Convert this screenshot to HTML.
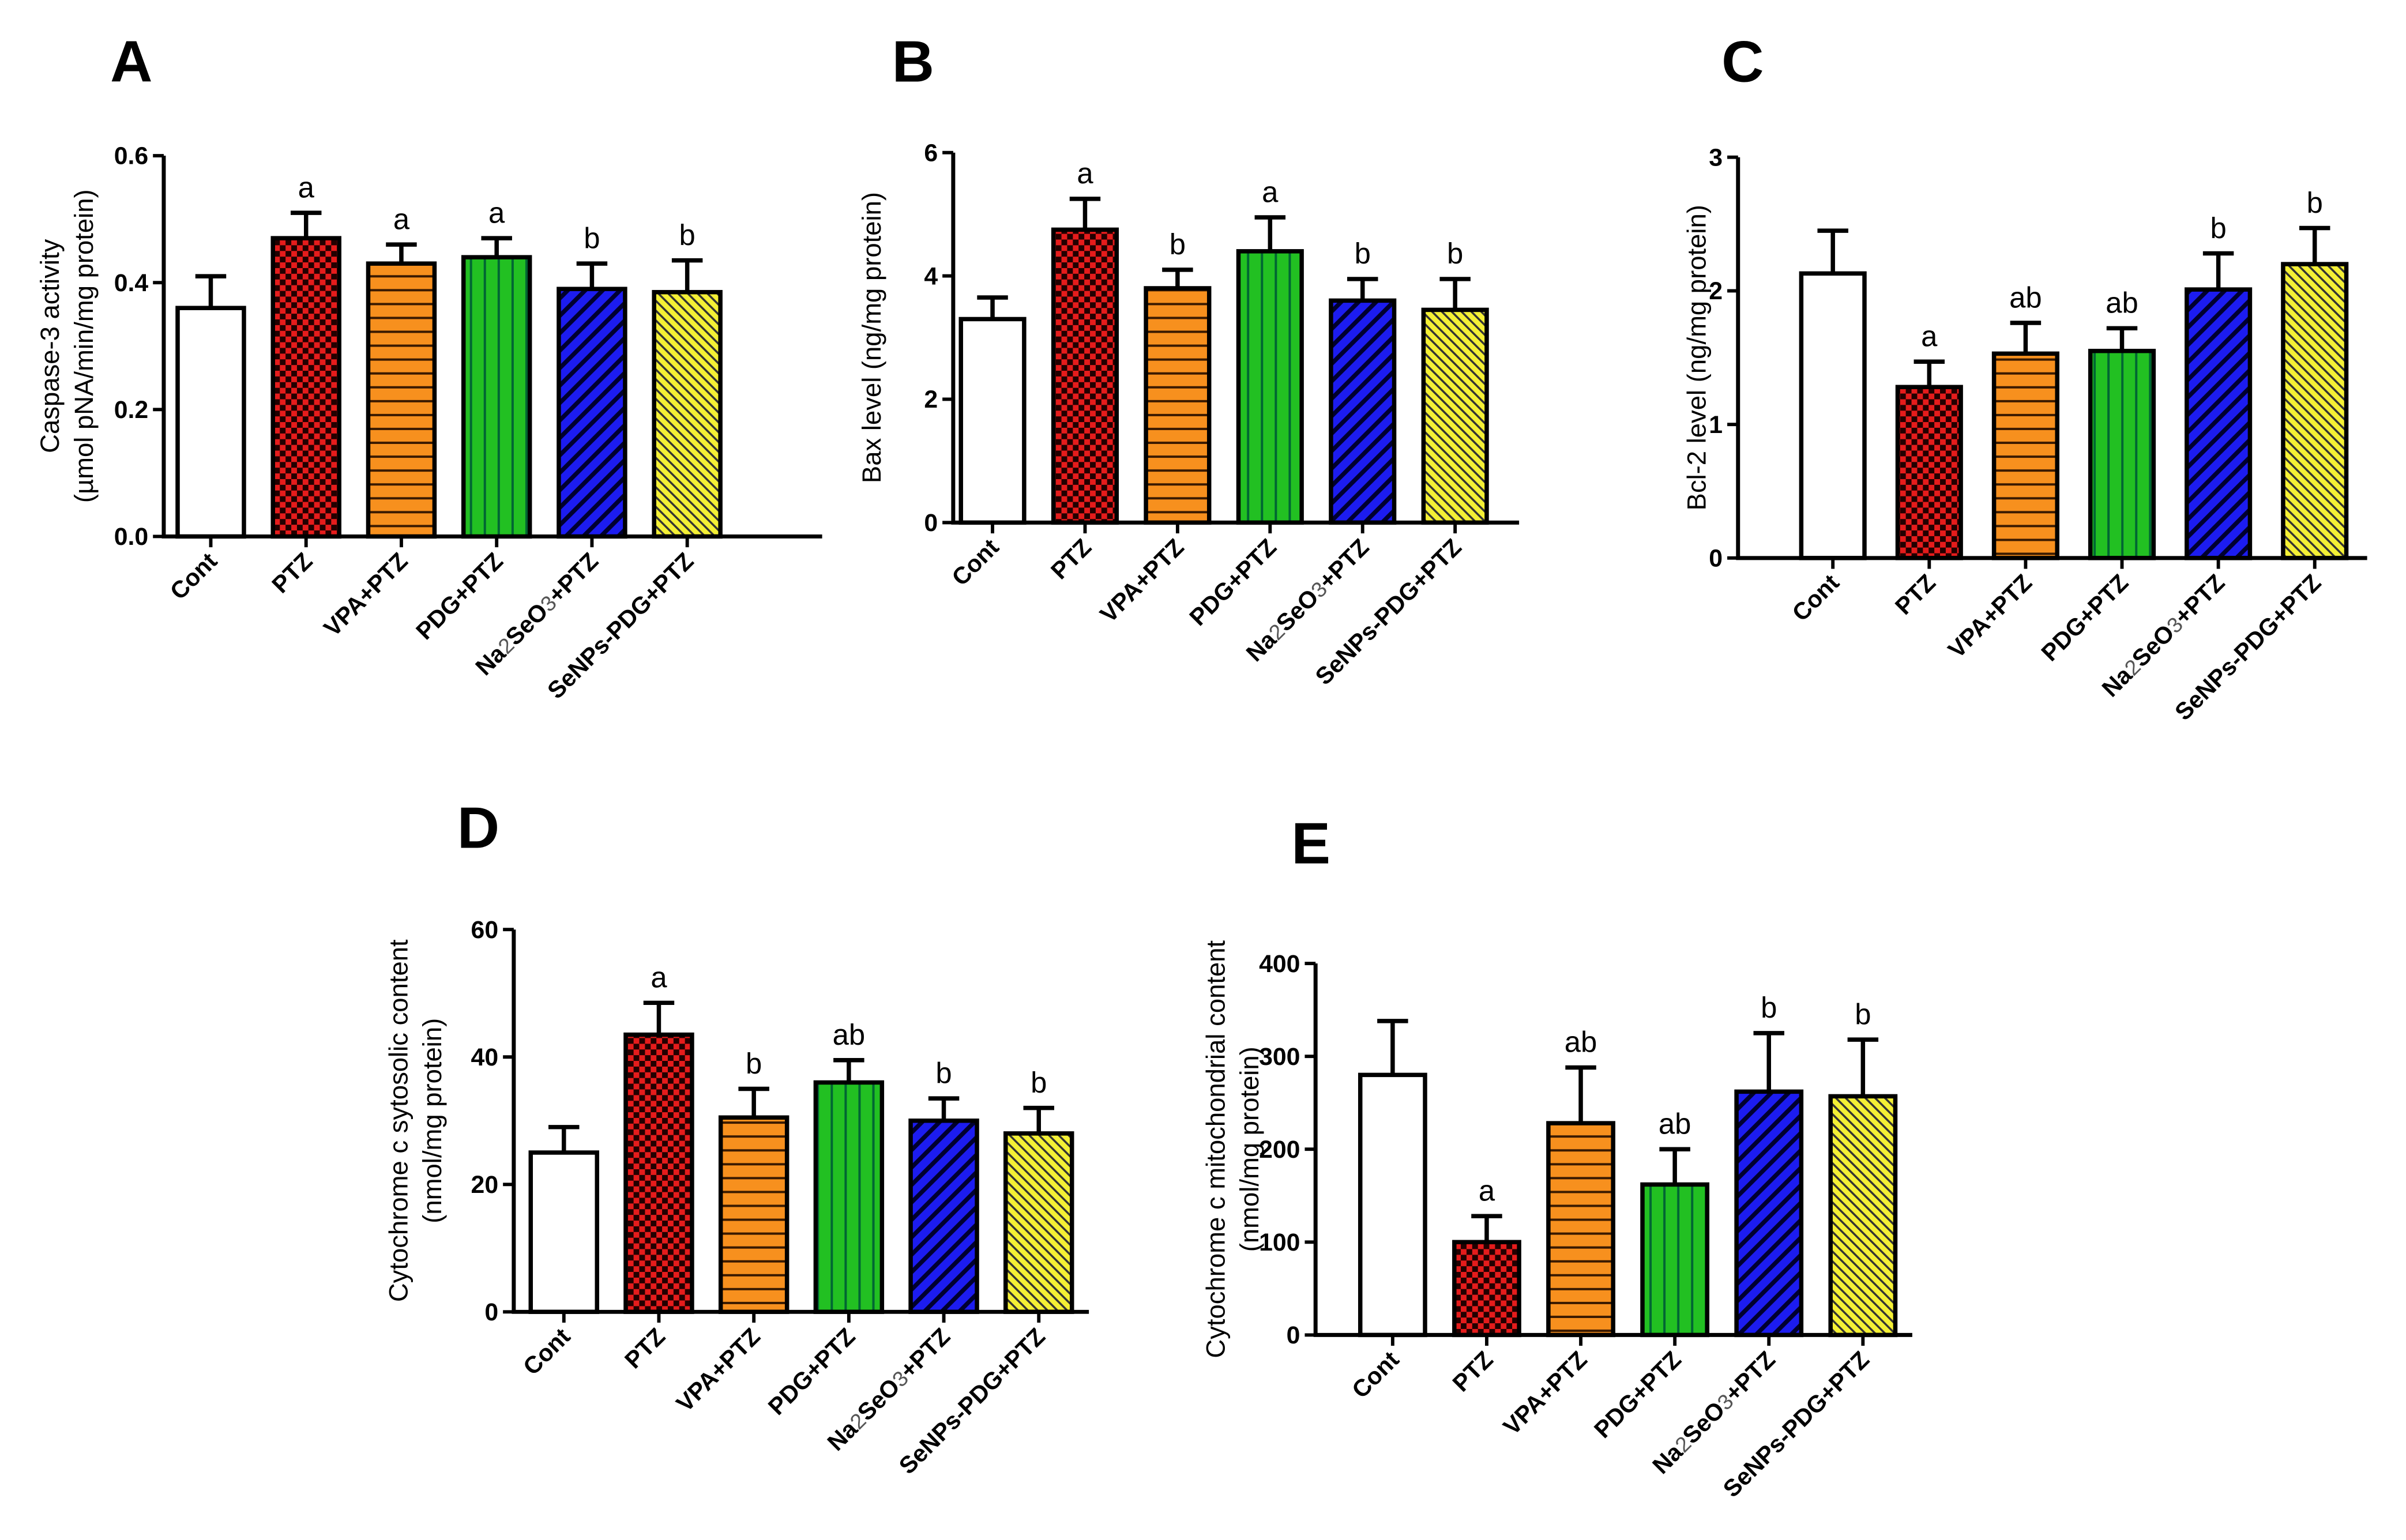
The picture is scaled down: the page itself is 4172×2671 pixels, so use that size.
<!DOCTYPE html>
<html><head><meta charset="utf-8">
<style>
html,body{margin:0;padding:0;background:#fff;}
svg{display:block;}
text{font-family:"Liberation Sans",Arial,sans-serif;}
</style></head>
<body>
<svg id="fig" width="4172" height="2671" viewBox="0 0 1560 999" xmlns="http://www.w3.org/2000/svg">
<defs>
<pattern id="pChk" width="7.4" height="7.4" patternUnits="userSpaceOnUse">
<rect width="7.4" height="7.4" fill="#e51c1c"/><rect width="3.7" height="3.7" fill="#200"/><rect x="3.7" y="3.7" width="3.7" height="3.7" fill="#200"/></pattern>
<pattern id="pHor" width="10" height="9" patternUnits="userSpaceOnUse">
<rect width="10" height="9" fill="#f7901e"/><rect y="7.5" width="10" height="1.5" fill="#3a1a00"/></pattern>
<pattern id="pVer" width="9" height="10" patternUnits="userSpaceOnUse">
<rect width="9" height="10" fill="#22c022"/><rect x="7.5" width="1.5" height="10" fill="#063"/></pattern>
<pattern id="pBlue" width="8" height="8" patternUnits="userSpaceOnUse" patternTransform="rotate(45)">
<rect width="8" height="8" fill="#1c1cf0"/><rect width="2.8" height="8" fill="#000030"/></pattern>
<pattern id="pYel" width="4.5" height="4.5" patternUnits="userSpaceOnUse" patternTransform="rotate(-45)">
<rect width="4.5" height="4.5" fill="#f4f035"/><rect width="1.3" height="4.5" fill="#333"/></pattern>
</defs>
</svg>
<script>
const categories = ["Cont","PTZ","VPA+PTZ","PDG+PTZ","Na2SeO3+PTZ","SeNPs-PDG+PTZ"];
const valsA = [0.36,0.47,0.43,0.44,0.39,0.385];
const errA  = [0.41,0.51,0.46,0.47,0.43,0.435];
const letA  = ["","a","a","a","b","b"];
const ticksA = [0,0.2,0.4,0.6];
const tickLabA = ["0.0","0.2","0.4","0.6"];
const valsB = [3.3,4.75,3.8,4.4,3.6,3.45];
const errB  = [3.65,5.25,4.1,4.95,3.95,3.95];
const letB  = ["","a","b","a","b","b"];
const ticksB = [0,2,4,6];
const tickLabB = ["0","2","4","6"];
const valsC = [2.13,1.28,1.53,1.55,2.01,2.2];
const errC  = [2.45,1.47,1.76,1.72,2.28,2.47];
const letC  = ["","a","ab","ab","b","b"];
const ticksC = [0,1,2,3];
const tickLabC = ["0","1","2","3"];
const valsD = [25,43.5,30.5,36,30,28];
const errD  = [29,48.5,35,39.5,33.5,32];
const letD  = ["","a","b","ab","b","b"];
const ticksD = [0,20,40,60];
const tickLabD = ["0","20","40","60"];
const valsE = [280,100,228,162,262,257];
const errE  = [338,128,288,200,325,318];
const letE  = ["","a","ab","ab","b","b"];
const ticksE = [0,100,200,300,400];
const tickLabE = ["0","100","200","300","400"];

const fills = ["#fff","url(#pChk)","url(#pHor)","url(#pVer)","url(#pBlue)","url(#pYel)"];
const NS = "http://www.w3.org/2000/svg";
const svg = document.getElementById("fig");
function mk(tag, attrs, parent){
  const e = document.createElementNS(NS, tag);
  for (const k in attrs) e.setAttribute(k, attrs[k]);
  (parent||svg).appendChild(e);
  return e;
}
function panel(id, L, vals, errs, lets, ticks, tickLabs){
  const g = mk("g", {});
  
  
  const yScale = v => L.y0 - (v / L.max) * (L.y0 - L.yTop);
  const xCenter = i => L.first + L.w/2 + i*L.sp;
  const pl = mk("text", {x:L.lx, y:L.ly, "font-size":38, "font-weight":"bold", "text-anchor":"middle"}, g);
  pl.textContent = id;
  
  
  const tt = mk("text", {transform:"translate("+L.tx+","+((L.y0+L.yTop)/2)+") rotate(-90)", "font-size":17, "text-anchor":"middle"}, g);
  
  
  L.title.forEach((line, k) => {
    const ts = mk("tspan", {x:0, dy: k===0 ? 0 : 22}, tt);
    ts.textContent = line;
  });
  vals.forEach((v, i) => {
    const yv = yScale(v), ye = yScale(errs[i]), xc = xCenter(i);
    const eb = mk("path", {d:"M"+xc+" "+yv+"V"+ye+"M"+(xc-10)+" "+ye+"H"+(xc+10), stroke:"#000", "stroke-width":2.8, fill:"none"}, g);
    
    
    const r = mk("rect", {x:xc-L.w/2, y:yv, width:L.w, height:L.y0-yv, fill:fills[i], stroke:"#000", "stroke-width":2.8}, g);
    
    
    if (lets[i]) {
      const lt = mk("text", {x:xc, y:ye-10, "font-size":19, "text-anchor":"middle"}, g);
      lt.textContent = lets[i];
      
      
    }
    mk("line", {x1:xc, y1:L.y0, x2:xc, y2:L.y0+7, stroke:"#000", "stroke-width":2.2}, g);
    const cl = mk("text", {transform:"translate("+(xc+5)+","+(L.y0+17)+") rotate(-45)", "font-size":15.5, "font-weight":"bold", "text-anchor":"end"}, g);
    
    
    const c = categories[i];
    if (c.indexOf("Na2SeO3") === 0) {
      const parts = [["Na",0],["2",1],["SeO",0],["3",1],["+PTZ",0]];
      parts.forEach(p => {
        const s = mk("tspan", p[1] ? {"font-weight":"normal", fill:"#555", "font-size":14} : {}, cl);
        s.textContent = p[0];
      });
    } else cl.textContent = c;
  });
  const ax = mk("path", {d:"M"+L.axisX+" "+L.yTop+"V"+L.y0+"H"+L.xEnd, stroke:"#000", "stroke-width":2.6, fill:"none"}, g);
  
  
  ticks.forEach((t, k) => {
    const y = yScale(t);
    mk("line", {x1:L.axisX-7, y1:y, x2:L.axisX, y2:y, stroke:"#000", "stroke-width":2.2}, g);
    const tl = mk("text", {x:L.axisX-10, y:y+5.5, "font-size":16, "font-weight":"bold", "text-anchor":"end"}, g);
    tl.textContent = tickLabs[k];
    
    
  });
}
panel("A", {axisX:106, first:115, sp:61.8, w:43, y0:348, yTop:101, max:0.6, xEnd:533, lx:85, ly:53, tx:38,
  title:["Caspase-3 activity","(µmol pNA/min/mg protein)"]}, valsA, errA, letA, ticksA, tickLabA);
panel("B", {axisX:618, first:623, sp:60, w:41, y0:339, yTop:99, max:6, xEnd:985, lx:592, ly:53, tx:571,
  title:["Bax level (ng/mg protein)"]}, valsB, errB, letB, ticksB, tickLabB);
panel("C", {axisX:1127, first:1168, sp:62.5, w:41, y0:362, yTop:102, max:3, xEnd:1535, lx:1130, ly:53, tx:1106,
  title:["Bcl-2 level (ng/mg protein)"]}, valsC, errC, letC, ticksC, tickLabC);
panel("D", {axisX:333, first:344, sp:61.6, w:43, y0:851, yTop:603, max:60, xEnd:706, lx:310, ly:550, tx:264,
  title:["Cytochrome c sytosolic content","(nmol/mg protein)"]}, valsD, errD, letD, ticksD, tickLabD);
panel("E", {axisX:853, first:882, sp:61, w:42, y0:866, yTop:625, max:400, xEnd:1240, lx:850, ly:560, tx:794,
  title:["Cytochrome c mitochondrial content","(nmol/mg protein)"]}, valsE, errE, letE, ticksE, tickLabE);
</script>
</body></html>
